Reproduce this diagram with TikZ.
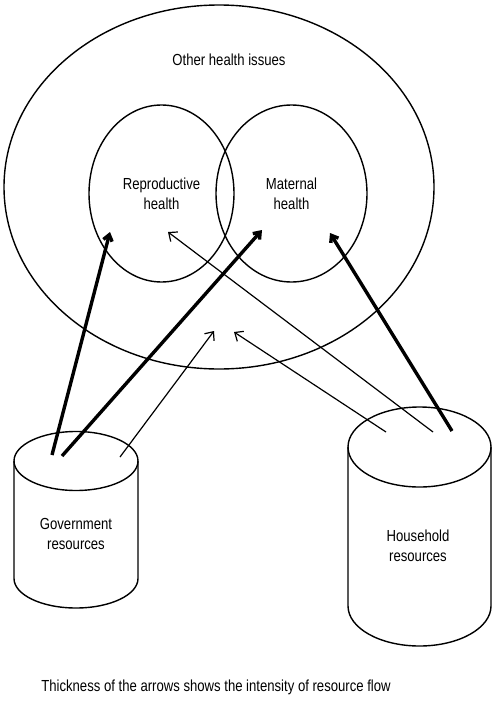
\documentclass[tikz,border=0pt]{standalone}
\usepackage{fontspec}
\setmainfont{Liberation Sans}[FakeStretch=0.82]
\usetikzlibrary{arrows.meta,shapes.geometric}
\begin{document}
\begin{tikzpicture}[x=1pt,y=-1pt,
  shapeline/.style={line width=1.4pt},
  oval/.style={shapeline,draw,ellipse,inner sep=0pt},
  lbl/.style={align=center,font=\fontsize{16}{20}\selectfont},
  thinflow/.style={line width=1.2pt,-{Straight Barb[length=7pt,width=12pt]}},
  thickflow/.style={line width=3.4pt,-{Straight Barb[length=6pt,width=9pt]}}]
\useasboundingbox (0,0) rectangle (496,701);
% health domains
\node[oval,minimum width=430pt,minimum height=364pt] (other) at (219,187) {};
\node[lbl] (otherlbl) at (229,60) {Other health issues};
\node[oval,minimum width=145pt,minimum height=177pt,lbl] (repro) at (161.5,193.5) {Reproductive\\health};
\node[oval,minimum width=151pt,minimum height=177pt,lbl] (mat) at (291.5,193.5) {Maternal\\health};
% government cylinder
\draw[shapeline] (14,461) -- (14,578.5) arc[start angle=180,end angle=0,x radius=62,y radius=29.5] -- (138,461);
\draw[shapeline] (76,461) ellipse[x radius=62,y radius=29.5];
\node[lbl] (gov) at (76,534) {Government\\resources};
% household cylinder
\draw[shapeline] (348,447) -- (348,606) arc[start angle=180,end angle=0,x radius=71.5,y radius=40] -- (491,447);
\draw[shapeline] (419.5,447) ellipse[x radius=71.5,y radius=40];
\node[lbl] (hh) at (418,545.5) {Household\\resources};
% flow end points
\coordinate (g1) at (52,455);
\coordinate (g2) at (62,456);
\coordinate (g3) at (120,457);
\coordinate (h1) at (386,432);
\coordinate (h2) at (433,432);
\coordinate (h3) at (452,431);
\coordinate (r1) at (110,232);
\coordinate (m1) at (262,230);
\coordinate (o1) at (214,331);
\coordinate (o2) at (234,332);
\coordinate (r2) at (168,232);
\coordinate (m2) at (330,233);
\draw[thickflow] (g1) -- (r1);
\draw[thickflow] (g2) -- (m1);
\draw[thinflow] (g3) -- (o1);
\draw[thinflow] (h1) -- (o2);
\draw[thinflow] (h2) -- (r2);
\draw[thickflow] (h3) -- (m2);
\node[lbl] (note) at (216,687) {Thickness of the arrows shows the intensity of resource flow};
\end{tikzpicture}
\end{document}
